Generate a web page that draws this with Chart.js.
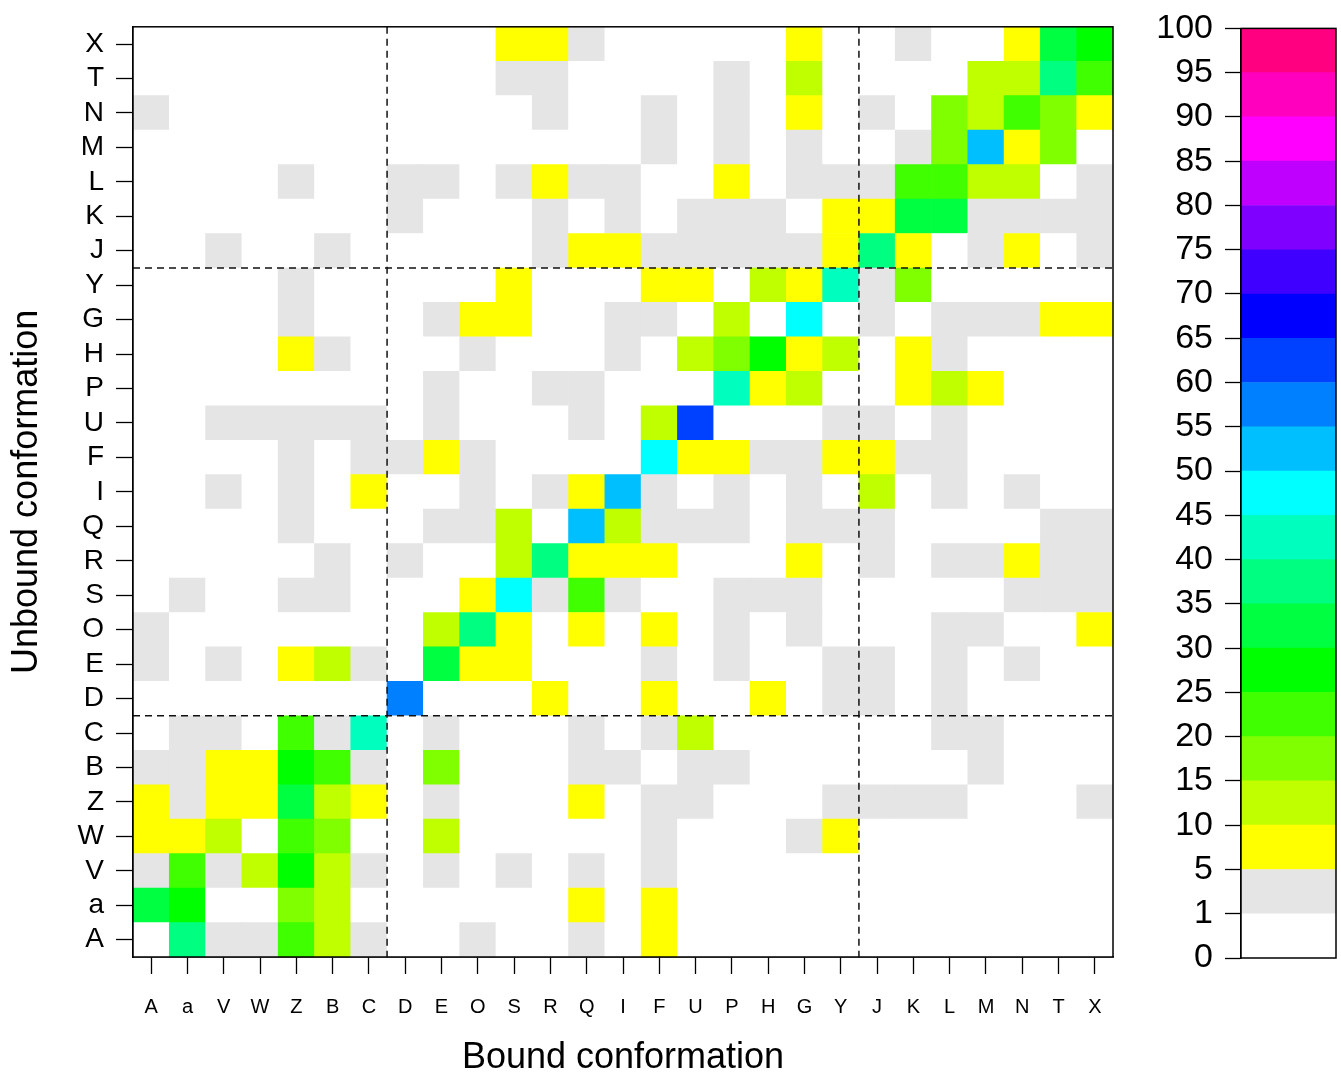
<!DOCTYPE html>
<html lang="en">
<head>
<meta charset="UTF-8">
<title>Unbound vs bound conformation</title>
<script src="https://cdn.jsdelivr.net/npm/chart.js"></script>
<style>
  body { margin: 0; background: #fff; overflow: hidden; }
  #wrap { position: relative; width: 1341px; height: 1072px; overflow: hidden; }
  #heat { position: absolute; left: 0; top: -2px; }
  #bar { position: absolute; left: 1130px; top: -4px; }
</style>
</head>
<body>
<div id="wrap">
  <canvas id="heat" width="1130" height="1074"></canvas>
  <canvas id="bar" width="211" height="1076"></canvas>
</div>
<script>
// categories (bottom-to-top for the rows, left-to-right for the columns)
const bound   = ['A','a','V','W','Z','B','C','D','E','O','S','R','Q','I','F','U','P','H','G','Y','J','K','L','M','N','T','X'];
const unbound = ['A','a','V','W','Z','B','C','D','E','O','S','R','Q','I','F','U','P','H','G','Y','J','K','L','M','N','T','X'];

// percentages per unbound row, columns in the order of `bound`
const row_X = [0,0,0,0,0,0,0,0,0,0,7,7,3,0,0,0,0,0,7,0,0,3,0,0,7,32,27];
const row_T = [0,0,0,0,0,0,0,0,0,0,3,3,0,0,0,0,3,0,12,0,0,0,0,12,12,37,22];
const row_N = [3,0,0,0,0,0,0,0,0,0,0,3,0,0,3,0,3,0,7,0,3,0,17,12,22,17,7];
const row_M = [0,0,0,0,0,0,0,0,0,0,0,0,0,0,3,0,3,0,3,0,0,3,17,52,7,17,0];
const row_L = [0,0,0,0,3,0,0,3,3,0,3,7,3,3,0,0,7,0,3,3,3,22,22,12,12,0,3];
const row_K = [0,0,0,0,0,0,0,3,0,0,0,3,0,3,0,3,3,3,0,7,7,32,32,3,3,3,3];
const row_J = [0,0,3,0,0,3,0,0,0,0,0,3,7,7,3,3,3,3,3,7,37,7,0,3,7,0,3];
const row_Y = [0,0,0,0,3,0,0,0,0,0,7,0,0,0,7,7,0,12,7,42,3,17,0,0,0,0,0];
const row_G = [0,0,0,0,3,0,0,0,3,7,7,0,0,3,3,0,12,0,47,0,3,0,3,3,3,7,7];
const row_H = [0,0,0,0,7,3,0,0,0,3,0,0,0,3,0,12,17,27,7,12,0,7,3,0,0,0,0];
const row_P = [0,0,0,0,0,0,0,0,3,0,0,3,3,0,0,0,42,7,12,0,0,7,12,7,0,0,0];
const row_U = [0,0,3,3,3,3,3,0,3,0,0,0,3,0,12,62,0,0,0,3,3,0,3,0,0,0,0];
const row_F = [0,0,0,0,3,0,3,3,7,3,0,0,0,0,47,7,7,3,3,7,7,3,3,0,0,0,0];
const row_I = [0,0,3,0,3,0,7,0,0,3,0,3,7,52,3,0,3,0,3,0,12,0,3,0,3,0,0];
const row_Q = [0,0,0,0,3,0,0,0,3,3,12,0,52,12,3,3,3,0,3,3,3,0,0,0,0,3,3];
const row_R = [0,0,0,0,0,3,0,3,0,0,12,37,7,7,7,0,0,0,7,0,3,0,3,3,7,3,3];
const row_S = [0,3,0,0,3,3,0,0,0,7,47,3,22,3,0,0,3,3,3,0,0,0,0,0,3,3,3];
const row_O = [3,0,0,0,0,0,0,0,12,37,7,0,7,0,7,0,3,0,3,0,0,0,3,3,0,0,7];
const row_E = [3,0,3,0,7,12,3,0,32,7,7,0,0,0,3,0,3,0,0,3,3,0,3,0,3,0,0];
const row_D = [0,0,0,0,0,0,0,57,0,0,0,7,0,0,7,0,0,7,0,3,3,0,3,0,0,0,0];
const row_C = [0,3,3,0,22,3,42,0,3,0,0,0,3,0,3,12,0,0,0,0,0,0,3,3,0,0,0];
const row_B = [3,3,7,7,27,22,3,0,17,0,0,0,3,3,0,3,3,0,0,0,0,0,0,3,0,0,0];
const row_Z = [7,3,7,7,32,12,7,0,3,0,0,0,7,0,3,3,0,0,0,3,3,3,3,0,0,0,3];
const row_W = [7,7,12,0,22,17,0,0,12,0,0,0,0,0,3,0,0,0,3,7,0,0,0,0,0,0,0];
const row_V = [3,22,3,12,27,12,3,0,3,0,3,0,3,0,3,0,0,0,0,0,0,0,0,0,0,0,0];
const row_a = [32,27,0,0,17,12,0,0,0,0,0,0,7,0,7,0,0,0,0,0,0,0,0,0,0,0,0];
const row_A = [0,37,3,3,22,12,3,0,0,3,0,0,3,0,7,0,0,0,0,0,0,0,0,0,0,0,0];

// colour key
const cbTicks  = ['0','1','5','10','15','20','25','30','35','40','45','50','55','60','65','70','75','80','85','90','95','100'];
const cbBreaks = [0,1,5,10,15,20,25,30,35,40,45,50,55,60,65,70,75,80,85,90,95,100];
const cbColors = ['#ffffff','#e5e5e5','#ffff00','#bfff00','#80ff00','#40ff00','#00ff00','#00ff40','#00ff80','#00ffbf',
                  '#00ffff','#00bfff','#0080ff','#0040ff','#0000ff','#4000ff','#8000ff','#bf00ff','#ff00ff','#ff00bf','#ff0080'];

// group boundaries for the dashed guides (index of first member of next group)
const splitAt = [7, 20];

const matrix = [row_A,row_a,row_V,row_W,row_Z,row_B,row_C,row_D,row_E,row_O,row_S,row_R,row_Q,
                row_I,row_F,row_U,row_P,row_H,row_G,row_Y,row_J,row_K,row_L,row_M,row_N,row_T,row_X];

const FONT = "'Liberation Sans', Arial, Helvetica, sans-serif";

function colorFor(v) {
  for (let i = cbBreaks.length - 2; i >= 0; i--) {
    if (v >= cbBreaks[i]) return cbColors[i];
  }
  return cbColors[0];
}

const frameAndGuides = {
  id: 'frameAndGuides',
  afterDatasetsDraw(chart) {
    const { ctx, chartArea: a, scales } = chart;
    ctx.save();
    if (chart.canvas.id === 'heat') {
      const x = scales.x, y = scales.y;
      ctx.strokeStyle = '#111';
      ctx.lineWidth = 1.5;
      ctx.setLineDash([7, 5]);
      splitAt.forEach(c => {
        const px = (x.getPixelForValue(c - 1) + x.getPixelForValue(c)) / 2;
        ctx.beginPath(); ctx.moveTo(px, a.top); ctx.lineTo(px, a.bottom); ctx.stroke();
        const py = y.getPixelForValue(c);
        ctx.beginPath(); ctx.moveTo(a.left, py); ctx.lineTo(a.right, py); ctx.stroke();
      });
      ctx.setLineDash([]);
    }
    ctx.strokeStyle = '#000';
    ctx.lineWidth = 1.5;
    ctx.strokeRect(a.left, a.top, a.width, a.height);
    ctx.restore();
  }
};

new Chart(document.getElementById('heat'), {
  type: 'bar',
  data: {
    labels: bound,
    datasets: unbound.map((lab, r) => ({
      label: lab,
      data: matrix[r].map(() => [r, r + 1]),
      backgroundColor: matrix[r].map(colorFor),
      borderWidth: 0,
      barPercentage: 1,
      categoryPercentage: 1,
      grouped: false
    }))
  },
  options: {
    responsive: false,
    animation: false,
    layout: { padding: { top: 26, right: 17, left: 0, bottom: 0 } },
    plugins: { legend: { display: false }, tooltip: { enabled: false } },
    scales: {
      x: {
        type: 'category',
        offset: true,
        grid: { drawOnChartArea: false, drawTicks: true, tickLength: 17, tickColor: '#000', tickWidth: 1.3, offset: false },
        border: { display: true, color: '#000', width: 1.5 },
        ticks: { color: '#000', font: { family: "'Liberation Sans Narrow', " + FONT, size: 20 }, padding: 21, maxRotation: 0, autoSkip: false },
        title: { display: true, text: 'Bound conformation', color: '#000', font: { family: FONT, size: 36, lineHeight: 0.7 }, padding: { top: 0, bottom: 1 } },
        afterFit(s) { s.height = 115; }
      },
      y: {
        type: 'linear',
        min: 0,
        max: 27,
        afterBuildTicks(s) { s.ticks = unbound.map((_, i) => ({ value: i + 0.5 })); },
        grid: { drawOnChartArea: false, drawTicks: true, tickLength: 17, tickColor: '#000', tickWidth: 1.3 },
        border: { display: true, color: '#000', width: 1.5 },
        ticks: { color: '#000', font: { family: FONT, size: 28 }, padding: 12, autoSkip: false,
                 callback: v => unbound[Math.floor(v)] },
        title: { display: true, text: 'Unbound conformation', color: '#000', font: { family: FONT, size: 36, lineHeight: 1.2 }, padding: { top: 5, bottom: 0 } },
        afterFit(s) { s.width = 133; }
      }
    }
  },
  plugins: [frameAndGuides]
});

new Chart(document.getElementById('bar'), {
  type: 'bar',
  data: {
    labels: [''],
    datasets: cbColors.map((c, i) => ({
      data: [[i, i + 1]],
      backgroundColor: c,
      borderWidth: 0,
      barPercentage: 1,
      categoryPercentage: 1,
      grouped: false
    }))
  },
  options: {
    responsive: false,
    animation: false,
    layout: { padding: { top: 24, right: 5, left: 0, bottom: 114 } },
    plugins: { legend: { display: false }, tooltip: { enabled: false } },
    scales: {
      x: { display: false },
      y: {
        type: 'linear',
        min: 0,
        max: cbColors.length,
        ticks: { stepSize: 1, autoSkip: false, color: '#000', font: { family: FONT, size: 34 }, padding: 12,
                 callback: v => cbTicks[v] },
        grid: { drawOnChartArea: false, drawTicks: true, tickLength: 16, tickColor: '#000', tickWidth: 1.3 },
        border: { display: true, color: '#000', width: 1.5 },
        afterFit(s) { s.width = 111; }
      }
    }
  },
  plugins: [frameAndGuides]
});
</script>
</body>
</html>
